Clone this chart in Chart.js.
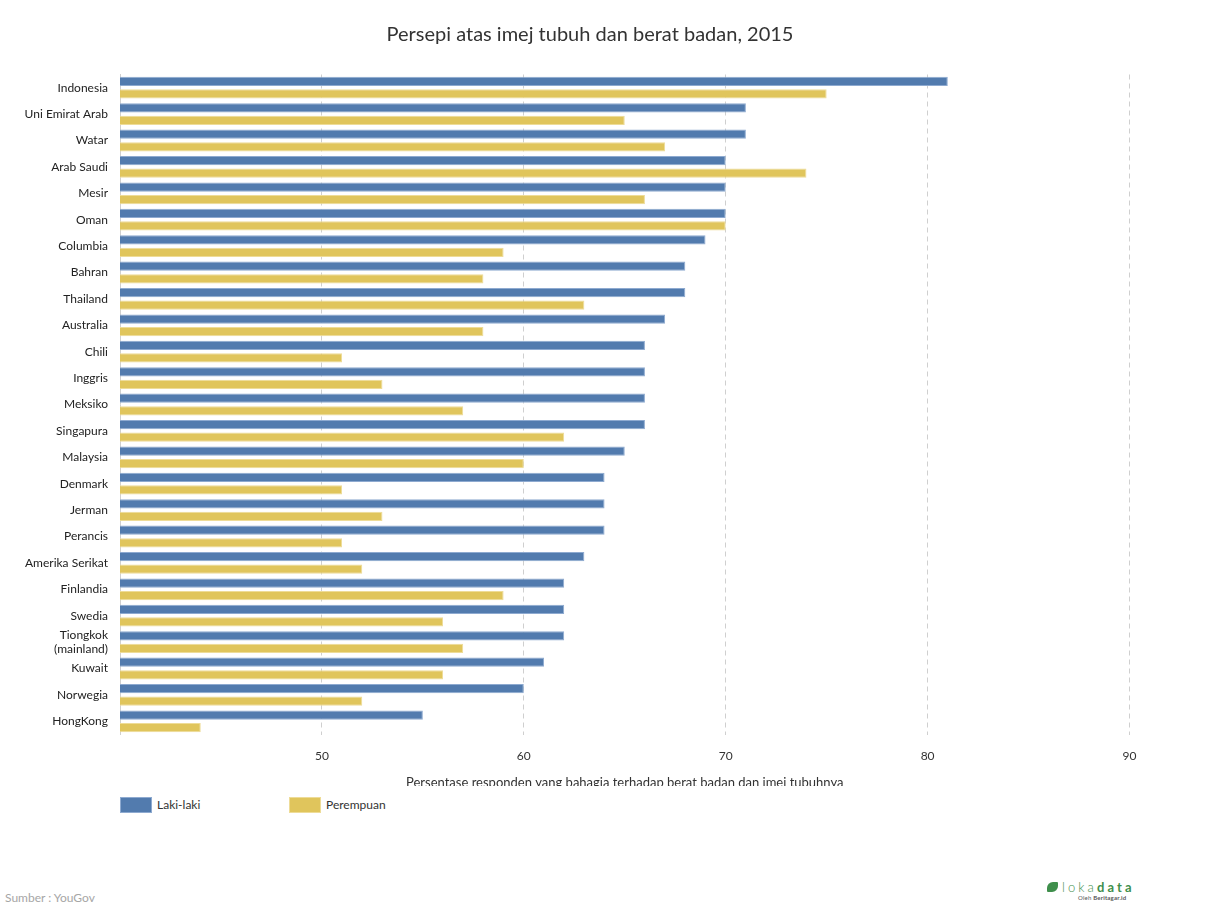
<!DOCTYPE html>
<html>
<head>
<meta charset="utf-8">
<script src="https://cdn.jsdelivr.net/npm/chart.js@4.4.1/dist/chart.umd.min.js"></script>
<style>
  body { margin: 0; background: #fff; font-family: Lato, "Noto Sans", sans-serif; }
  #judul { position: absolute; left: 0; top: 21px; width: 1180px; text-align: center; font-size: 20px; line-height: 24px; color: #333; }
  #wrap { position: absolute; left: 0; top: 0; width: 1180px; height: 786px; overflow: hidden; }
  .legend-item { position: absolute; top: 797px; font-size: 12px; color: #333; line-height: 16px; }
  .legend-item span.box { position: absolute; top: 0; left: 0; width: 30px; height: 14px; }
  .legend-item span.txt { position: absolute; left: 37px; top: 0; white-space: nowrap; }
  #sumber { position: absolute; left: 5px; top: 890px; font-size: 12px; color: #a6a6a6; }
  #logo { position: absolute; left: 1047px; top: 879px; color: #3f8f4c; }
  #logo .ic { position: absolute; left: 0; top: 3px; width: 11px; height: 10px; background: #3f8f4c; border-radius: 6px 1px 6px 1px; }
  #logo .nm { position: absolute; left: 15px; top: 0; font-size: 13px; letter-spacing: 3.1px; white-space: nowrap; font-weight: 300; }
  #logo .nm b { font-weight: 700; }
  #logo .sub { position: absolute; left: 31px; top: 15px; font-size: 6px; color: #555; white-space: nowrap; letter-spacing: 0.2px; }
</style>
</head>
<body>
<div id="wrap"><canvas id="grafico" width="1180" height="800"></canvas></div>
<div id="judul"></div>

<div class="legend-item" style="left:120px"><span class="box" style="background:#527bae;border:1px solid #8eaad0"></span><span class="txt">Laki-laki</span></div>
<div class="legend-item" style="left:289px"><span class="box" style="background:#e0c55c;border:1px solid #eedc98"></span><span class="txt">Perempuan</span></div>

<div id="sumber">Sumber : YouGov</div>
<div id="logo"><div class="ic"></div><div class="nm">loka<b>data</b></div><div class="sub">Oleh <b>Beritagar.id</b></div></div>

<script>
// Datos
const negara = [
    'Indonesia', 'Uni Emirat Arab', 'Watar', 'Arab Saudi', 'Mesir', 'Oman',
    'Columbia', 'Bahran', 'Thailand', 'Australia', 'Chili', 'Inggris',
    'Meksiko', 'Singapura', 'Malaysia', 'Denmark', 'Jerman', 'Perancis',
    'Amerika Serikat', 'Finlandia', 'Swedia', ['Tiongkok', '(mainland)'],
    'Kuwait', 'Norwegia', 'HongKong'
];
const lakiLaki = [81, 71, 71, 70, 70, 70, 69, 68, 68, 67, 66, 66, 66, 66, 65, 64, 64, 64, 63, 62, 62, 62, 61, 60, 55];
const perempuan = [75, 65, 67, 74, 66, 70, 59, 58, 63, 58, 51, 53, 57, 62, 60, 51, 53, 51, 52, 59, 56, 57, 56, 52, 44];

const judul = 'Persepi atas imej tubuh dan berat badan, 2015';
const judulSumbuX = 'Persentase responden yang bahagia terhadap berat badan dan imej tubuhnya';

const fuente = 'Lato, "Noto Sans", sans-serif';

// El título va en HTML para poder centrarlo igual que en el original
document.getElementById('judul').textContent = judul;

const ctx = document.getElementById('grafico').getContext('2d');

new Chart(ctx, {
    type: 'bar',
    data: {
        labels: negara,
        datasets: [{
            label: 'Laki-laki',
            data: lakiLaki,
            backgroundColor: '#527bae',
            borderColor: '#8eaad0',
            borderWidth: 1,
            barPercentage: 0.74,
            categoryPercentage: 0.95
        }, {
            label: 'Perempuan',
            data: perempuan,
            backgroundColor: '#e0c55c',
            borderColor: '#eedc98',
            borderWidth: 1,
            barPercentage: 0.74,
            categoryPercentage: 0.95
        }]
    },
    options: {
        indexAxis: 'y',
        responsive: false,
        animation: false,
        layout: { padding: { left: 0, right: 50.5, top: 74.5, bottom: 0 } },
        plugins: {
            legend: { display: false },
            tooltip: { enabled: false },
            title: { display: false }
        },
        scales: {
            x: {
                min: 40,
                max: 90,
                ticks: {
                    stepSize: 10,
                    color: '#333',
                    padding: 14,
                    font: { family: fuente, size: 12 },
                    callback: (v) => v === 40 ? '' : v
                },
                grid: {
                    drawTicks: false,
                    color: (c) => c.tick && c.tick.value === 40 ? 'rgba(0,0,0,0)' : '#cfcfcf',
                    lineWidth: 1
                },
                border: { display: false, dash: [5, 4] },
                title: {
                    display: true,
                    text: judulSumbuX,
                    color: '#333',
                    font: { family: fuente, size: 13 },
                    padding: { top: 0, bottom: 9.2 }
                },
                afterFit: (scale) => { scale.height = 65.5; }
            },
            y: {
                ticks: {
                    color: '#222',
                    padding: 12,
                    autoSkip: false,
                    font: { family: fuente, size: 12, lineHeight: 1.1 }
                },
                grid: { display: false, drawTicks: false },
                border: { display: true, color: '#d0d0d0', width: 1 },
                afterFit: (scale) => { scale.width = 120; }
            }
        }
    }
});
</script>
</body>
</html>
